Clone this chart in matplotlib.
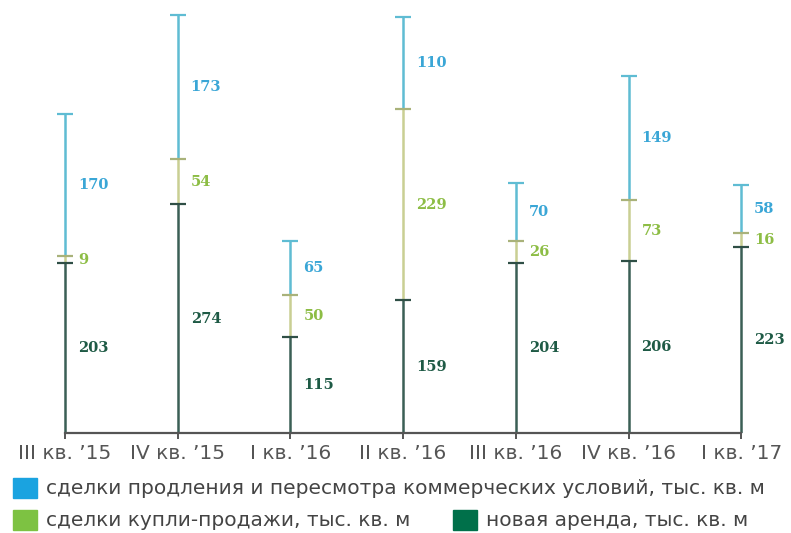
import matplotlib
matplotlib.use('Agg')
import matplotlib.pyplot as plt
from matplotlib.patches import Rectangle

quarters = ["III кв. ’15", "IV кв. ’15", "I кв. ’16", "II кв. ’16",
            "III кв. ’16", "IV кв. ’16", "I кв. ’17"]
new_lease = [203, 274, 115, 159, 204, 206, 223]
sales = [9, 54, 50, 229, 26, 73, 16]
renewals = [170, 173, 65, 110, 70, 149, 58]

legend_labels = ["сделки продления и пересмотра коммерческих условий, тыс. кв. м",
                 "сделки купли-продажи, тыс. кв. м",
                 "новая аренда, тыс. кв. м"]

# line / text / legend colours per series: new lease, sales, renewals
line_cols = ['#3b5f55', '#c9cf93', '#5fbcd3']
tick_cols = ['#2f4f46', '#a9b27a', '#5fbcd3']
text_cols = ['#1e5a45', '#8dbd45', '#3aa6d6']
patch_cols = ['#00704a', '#7dc242', '#1aa3e0']

W, H = 791, 533
fig = plt.figure(figsize=(W / 100, H / 100), dpi=100)
x0 = 65 / 112.7
ax = fig.add_axes([0, 100 / H, 1, 1 - 100 / H])
ax.set_xlim(-x0, (W - 65) / 112.7)
ax.set_ylim(0, 433 / 0.835)

num_font = dict(family='DejaVu Serif', fontsize=10.5, fontweight='bold')

for i in range(len(quarters)):
    b1 = new_lease[i]
    b2 = b1 + sales[i]
    b3 = b2 + renewals[i]
    segs = [(0, b1), (b1, b2), (b2, b3)]
    vals = [new_lease[i], sales[i], renewals[i]]
    for k, (lo, hi) in enumerate(segs):
        ax.vlines(i, lo, hi, color=line_cols[k], lw=1.8, zorder=2)
        ax.plot([i], [hi], marker='_', ms=11.5, mew=1.6, color=tick_cols[k], zorder=3)
        ax.text(i + 0.115, (lo + hi) / 2, str(vals[k]), color=text_cols[k],
                va='center', ha='left', **num_font)

for s in ['top', 'right', 'left']:
    ax.spines[s].set_visible(False)
ax.spines['bottom'].set_bounds(0, len(quarters) - 1)
ax.spines['bottom'].set_color('#555555')
ax.spines['bottom'].set_linewidth(1.6)
ax.set_yticks([])
ax.set_xticks(range(len(quarters)))
ax.set_xticklabels(quarters, fontsize=14.5, color='#555555')
ax.tick_params(axis='x', length=4, width=1.4, color='#555555', pad=4)

leg_font = dict(fontsize=14.5, color='#444444', va='center', ha='left')
# (left px, centre y px, series index)
legend_pos = [(13, 488, 2), (13, 520, 1), (453, 520, 0)]
for (px, py, k), lab in zip(legend_pos, legend_labels):
    fig.patches.append(Rectangle((px / W, 1 - (py + 10) / H), 24 / W, 20 / H,
                                 transform=fig.transFigure, color=patch_cols[k]))
    fig.text((px + 33) / W, 1 - py / H, lab, **leg_font)

fig.savefig('out.png', dpi=100)
